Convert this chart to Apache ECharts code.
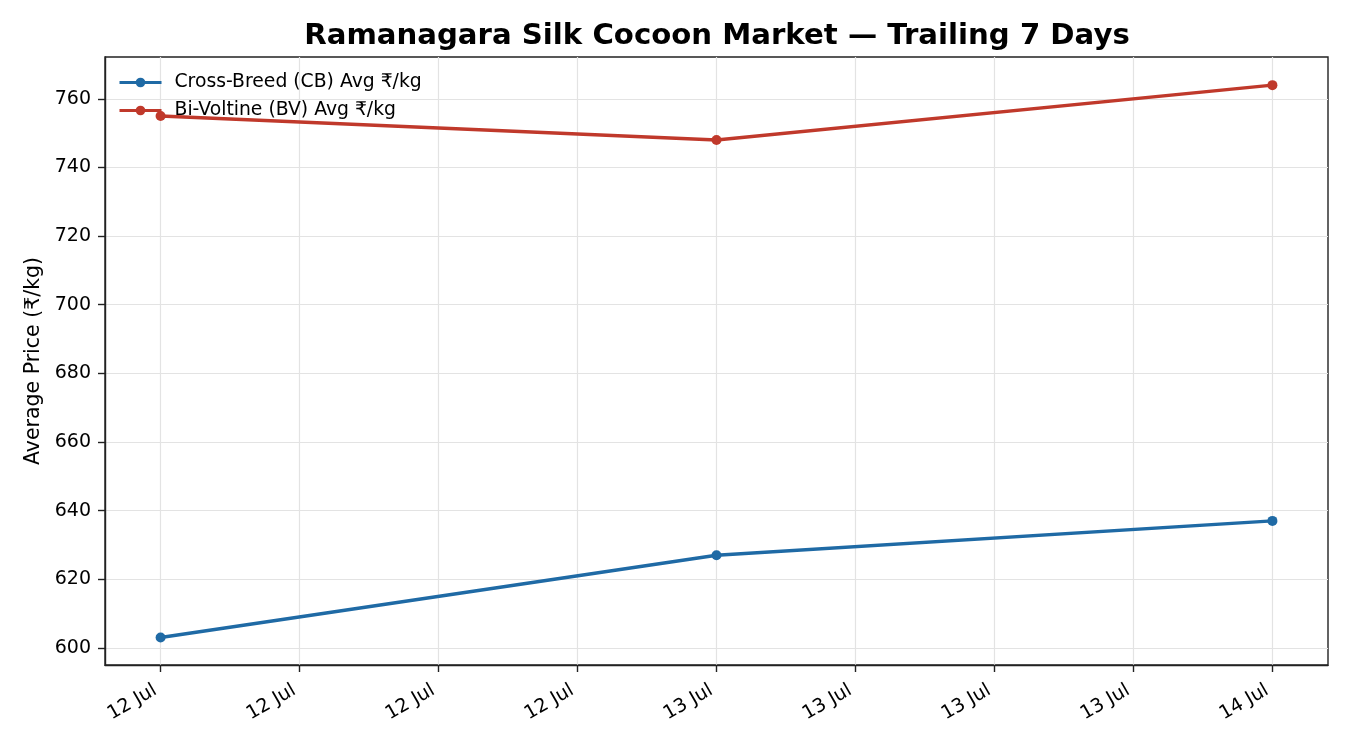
<!DOCTYPE html>
<html><head><meta charset="utf-8">
<script src="https://cdn.jsdelivr.net/npm/echarts@6/dist/echarts.min.js"></script>
<style>html,body{margin:0;padding:0;background:#fff}#c{width:1350px;height:750px}</style>
</head><body><div id="c"></div>
<script>
const hours = [0, 24, 48];
const cbValues = [603, 627, 637];
const bvValues = [755, 748, 764];
const xTicks = [0, 6, 12, 18, 24, 30, 36, 42, 48];
const yTicks = [600, 620, 640, 660, 680, 700, 720, 740, 760];
const dayNames = ['12 Jul', '13 Jul', '14 Jul'];
const FONT = '"DejaVu Sans", sans-serif';

const chart = echarts.init(document.getElementById('c'), null, {renderer: 'canvas'});
chart.setOption({
  animation: false,
  backgroundColor: '#fff',
  title: {
    text: 'Ramanagara Silk Cocoon Market — Trailing 7 Days',
    left: 712, textAlign: 'center', top: 17,
    textStyle: {fontFamily: FONT, fontWeight: 'bold', fontSize: 29.2, color: '#000'}
  },
  legend: {
    orient: 'vertical', left: 113, top: 68,
    itemWidth: 42, itemHeight: 12, itemGap: 9,
    lineStyle: {width: 3},
    textStyle: {fontFamily: FONT, fontSize: 18.8, color: '#000', padding: [0, 0, 0, 8]},
    data: ['Cross-Breed (CB) Avg ₹/kg', 'Bi-Voltine (BV) Avg ₹/kg']
  },
  grid: {left: 105, right: 22, top: 57, bottom: 85, show: true, borderColor: '#222', borderWidth: 1.4, containLabel: false},
  xAxis: {
    type: 'value', min: -2.4, max: 50.4,
    axisLine: {show: true, onZero: false, lineStyle: {color: '#222', width: 1.4}},
    axisTick: {show: true, customValues: xTicks, length: 7, lineStyle: {color: '#222', width: 1.4}},
    axisLabel: {
      customValues: xTicks, rotate: 30, margin: 21, padding: [0, 6, 0, 0],
      fontFamily: FONT, fontSize: 19, color: '#000',
      formatter: v => dayNames[Math.floor(v / 24)]
    },
    splitLine: {show: true, lineStyle: {color: '#e3e3e3', width: 1.2}}
  },
  yAxis: {
    type: 'value', min: 595, max: 772.2,
    name: 'Average Price (₹/kg)', nameLocation: 'middle', nameGap: 61,
    nameTextStyle: {fontFamily: FONT, fontSize: 20.5, color: '#000'},
    axisLine: {show: true, onZero: false, lineStyle: {color: '#222', width: 1.4}},
    axisTick: {show: true, customValues: yTicks, length: 7, lineStyle: {color: '#222', width: 1.4}},
    axisLabel: {customValues: yTicks, fontFamily: FONT, fontSize: 19, color: '#000', margin: 14},
    splitLine: {show: true, lineStyle: {color: '#e3e3e3', width: 1.2}}
  },
  series: [
    {
      name: 'Cross-Breed (CB) Avg ₹/kg', type: 'line',
      data: hours.map((h, i) => [h, cbValues[i]]),
      symbol: 'circle', symbolSize: 10,
      lineStyle: {color: '#1f6aa5', width: 3.4}, itemStyle: {color: '#1f6aa5'}
    },
    {
      name: 'Bi-Voltine (BV) Avg ₹/kg', type: 'line',
      data: hours.map((h, i) => [h, bvValues[i]]),
      symbol: 'circle', symbolSize: 10,
      lineStyle: {color: '#c0392b', width: 3.4}, itemStyle: {color: '#c0392b'}
    }
  ]
});
</script></body></html>
